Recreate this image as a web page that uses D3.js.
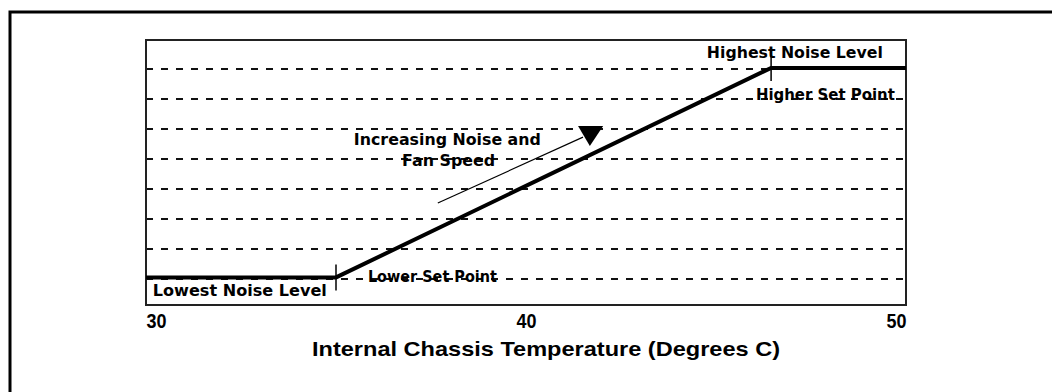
<!DOCTYPE html>
<html>
<head>
<meta charset="utf-8">
<script src="https://cdn.jsdelivr.net/npm/d3@7"></script>
<style>
  body { margin: 0; background: #fff; }
  svg { display: block; }
</style>
</head>
<body>
<div id="chart"></div>
<script>
// temperatures along the bottom
const tempTicks = [30, 40, 50];
// fan noise curve (temperature -> noise level)
const curveTemp = [30, 35, 46.45, 50];
const curveNoise = [1.05, 1.05, 8.04, 8.04];
// dashed noise levels
const gridLevels = [1, 2, 3, 4, 5, 6, 7, 8];
// set points marked with a small vertical tick
const setPointTemp = [35, 46.45];
const setPointNoise = [1.05, 8.04];

const width = 1052, height = 392;

const x = d3.scaleLinear().domain([30, 50]).range([146, 906]);
const y = d3.scaleLinear().domain([0.13, 8.97]).range([305, 40]);

const svg = d3.select("#chart")
  .append("svg")
  .attr("width", width)
  .attr("height", height);

// outer box, runs off the right and bottom of the picture
svg.append("rect")
  .attr("x", 10).attr("y", 12)
  .attr("width", 1100).attr("height", 500)
  .attr("fill", "none")
  .attr("stroke", "#000")
  .attr("stroke-width", 3);

// dashed grid
svg.append("g")
  .selectAll("line")
  .data(gridLevels)
  .enter().append("line")
  .attr("x1", x(30)).attr("x2", x(50))
  .attr("y1", d => y(d)).attr("y2", d => y(d))
  .attr("stroke", "#111")
  .attr("stroke-width", 2)
  .attr("stroke-dasharray", "7,8");

// plot frame
svg.append("rect")
  .attr("x", x(30)).attr("y", y(8.97))
  .attr("width", x(50) - x(30))
  .attr("height", y(0.13) - y(8.97))
  .attr("fill", "none")
  .attr("stroke", "#222")
  .attr("stroke-width", 2);

// noise curve
const line = d3.line().x(d => x(d[0])).y(d => y(d[1]));
svg.append("path")
  .datum(curveTemp.map((t, i) => [t, curveNoise[i]]))
  .attr("d", line)
  .attr("fill", "none")
  .attr("stroke", "#000")
  .attr("stroke-width", 4);

// set point ticks
svg.append("g")
  .selectAll("line")
  .data(setPointTemp)
  .enter().append("line")
  .attr("x1", d => x(d)).attr("x2", d => x(d))
  .attr("y1", (d, i) => y(setPointNoise[i]) - 13)
  .attr("y2", (d, i) => y(setPointNoise[i]) + 13)
  .attr("stroke", "#000")
  .attr("stroke-width", 1.5);

// arrow for "increasing"
svg.append("line")
  .attr("x1", x(37.68)).attr("y1", y(3.53))
  .attr("x2", x(41.5)).attr("y2", y(5.73))
  .attr("stroke", "#000")
  .attr("stroke-width", 1.2);
svg.append("path")
  .datum([[41.37, 6.1], [42.03, 6.1], [41.68, 5.43]])
  .attr("d", d => line(d) + "Z")
  .attr("fill", "#000");

// annotation texts
const notes = [
  { text: "Highest Noise Level", t: 44.76, lvl: 8.37, w: 176 },
  { text: "Higher Set Point", t: 46.05, lvl: 6.97, w: 139 },
  { text: "Lower Set Point", t: 35.84, lvl: 0.90, w: 129 },
  { text: "Lowest Noise Level", t: 30.18, lvl: 0.43, w: 174 },
  { text: "Increasing Noise and", t: 35.47, lvl: 5.47, w: 187 },
  { text: "Fan Speed", t: 36.74, lvl: 4.77, w: 93 }
];
svg.append("g")
  .selectAll("text")
  .data(notes)
  .enter().append("text")
  .attr("x", d => x(d.t))
  .attr("y", d => y(d.lvl))
  .attr("textLength", d => d.w)
  .attr("lengthAdjust", "spacingAndGlyphs")
  .style("font-family", "'DejaVu Sans', sans-serif")
  .style("font-weight", "bold")
  .style("font-size", "15px")
  .text(d => d.text);

// bottom axis
const axis = svg.append("g")
  .attr("transform", `translate(0,${y(0.13)})`)
  .call(d3.axisBottom(x).tickValues(tempTicks).tickSize(0).tickFormat(d3.format("d")));
axis.select(".domain").remove();
axis.selectAll("text")
  .attr("y", 23).attr("dy", 0)
  .attr("text-anchor", (d, i) => i === 0 ? "start" : (i === tempTicks.length - 1 ? "end" : "middle"))
  .attr("textLength", 20)
  .attr("lengthAdjust", "spacingAndGlyphs")
  .style("font-family", "'Liberation Sans', Arial, sans-serif")
  .style("font-weight", "bold")
  .style("font-size", "20px")
  .attr("fill", "#000");

svg.append("text")
  .attr("x", 546)
  .attr("y", 356)
  .attr("text-anchor", "middle")
  .attr("textLength", 468)
  .attr("lengthAdjust", "spacingAndGlyphs")
  .style("font-family", "'Liberation Sans', Arial, sans-serif")
  .style("font-weight", "bold")
  .style("font-size", "21px")
  .text("Internal Chassis Temperature (Degrees C)");
</script>
</body>
</html>
